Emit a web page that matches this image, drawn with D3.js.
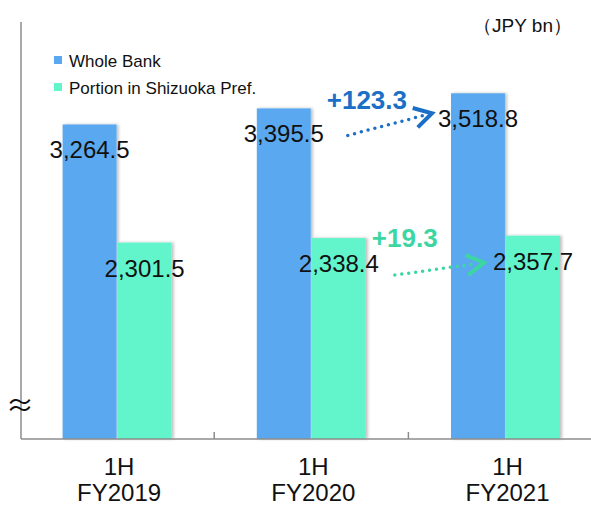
<!DOCTYPE html>
<html>
<head>
<meta charset="utf-8">
<script src="https://cdn.jsdelivr.net/npm/d3@7"></script>
<style>
  body { margin: 0; background: #fff; }
  text { font-family: "Liberation Sans", Arial, sans-serif; }
</style>
</head>
<body>
<div class="chart"></div>
<script>
// chart data
var categories = ["1H FY2019", "1H FY2020", "1H FY2021"];
var seriesNames = ["Whole Bank", "Portion in Shizuoka Pref."];
var wholeBank = [3264.5, 3395.5, 3518.8];
var shizuoka = [2301.5, 2338.4, 2357.7];
var changeLabels = ["+123.3", "+19.3"];
var unitLabel = "（JPY bn）";

var colors = ["#5AA9F0", "#62F5CB"];
var annoColors = ["#1C6FC6", "#3DD6A3"];

var svgWidth = 591, svgHeight = 506;

var svg = d3.select(".chart")
  .append("svg")
  .attr("width", svgWidth)
  .attr("height", svgHeight);

// soft shadow on the bars
var defs = svg.append("defs");
defs.append("filter")
  .attr("id", "shadow")
  .attr("x", "-20%").attr("y", "-5%")
  .attr("width", "140%").attr("height", "110%")
  .append("feDropShadow")
  .attr("dx", 2).attr("dy", 0)
  .attr("stdDeviation", 1.5)
  .attr("flood-color", "#000")
  .attr("flood-opacity", 0.25);

// scales
var x0 = d3.scaleBand()
  .domain(categories)
  .range([20, 602.6]);

var x1 = d3.scaleBand()
  .domain(seriesNames)
  .range([0, 109])
  .paddingInner(0.02);

var y = d3.scaleLinear()
  .domain([700, 4100])
  .range([439, 22]);

var rows = categories.map(function(c, i) {
  return { cat: c, values: [wholeBank[i], shizuoka[i]] };
});

function barX(cat, s) {
  return x0(cat) + x0.bandwidth() / 2 - 54.5 + x1(s);
}

// bars
var groups = svg.selectAll(".cat")
  .data(rows)
  .enter()
  .append("g")
  .attr("class", "cat");

groups.selectAll("rect")
  .data(function(d) {
    return d.values.map(function(v, j) { return { cat: d.cat, s: seriesNames[j], v: v, j: j }; });
  })
  .enter()
  .append("rect")
  .attr("x", d => barX(d.cat, d.s))
  .attr("y", d => y(d.v))
  .attr("width", x1.bandwidth())
  .attr("height", d => y.range()[0] - y(d.v))
  .attr("fill", d => colors[d.j])
  .attr("filter", "url(#shadow)");

// axes
var axisColor = "#8c8c8c";
svg.append("line")
  .attr("x1", 21).attr("x2", 21)
  .attr("y1", y.range()[1]).attr("y2", y.range()[0])
  .attr("stroke", axisColor).attr("stroke-width", 1.5);

svg.append("line")
  .attr("x1", 21).attr("x2", svgWidth)
  .attr("y1", y.range()[0]).attr("y2", y.range()[0])
  .attr("stroke", axisColor).attr("stroke-width", 1.5);

// tick marks between categories
svg.selectAll(".tick")
  .data(categories.slice(1))
  .enter()
  .append("line")
  .attr("x1", d => x0(d)).attr("x2", d => x0(d))
  .attr("y1", y.range()[0] - 7).attr("y2", y.range()[0])
  .attr("stroke", axisColor).attr("stroke-width", 1.5);

// axis break mark
svg.append("text")
  .attr("x", 20)
  .attr("y", 416)
  .attr("text-anchor", "middle")
  .attr("font-size", 28)
  .style("font-family", "'Noto Sans CJK JP', sans-serif")
  .attr("fill", "#111")
  .text("≈");

// category labels
var catLabels = svg.selectAll(".catlabel")
  .data(categories)
  .enter()
  .append("text")
  .attr("text-anchor", "middle")
  .attr("font-size", 24)
  .attr("fill", "#111");

catLabels.each(function(d) {
  var parts = d.split(" ");
  var t = d3.select(this);
  parts.forEach(function(p, k) {
    t.append("tspan")
      .attr("x", x0(d) + x0.bandwidth() / 2 + 2)
      .attr("y", 475 + k * 26)
      .text(p);
  });
});

// value labels
var fmt = d3.format(",.1f");
groups.selectAll(".val")
  .data(function(d) {
    return d.values.map(function(v, j) { return { cat: d.cat, s: seriesNames[j], v: v }; });
  })
  .enter()
  .append("text")
  .attr("x", d => barX(d.cat, d.s) + x1.bandwidth() / 2)
  .attr("y", d => y(d.v) + 34)
  .attr("text-anchor", "middle")
  .attr("font-size", 24)
  .attr("fill", "#111")
  .text(d => fmt(d.v));

// legend
var legend = svg.selectAll(".legend")
  .data(seriesNames)
  .enter()
  .append("g")
  .attr("transform", (d, i) => `translate(54, ${56 + i * 27})`);

legend.append("rect")
  .attr("width", 8).attr("height", 8)
  .attr("fill", (d, i) => colors[i]);

legend.append("text")
  .attr("x", 15)
  .attr("y", 11)
  .attr("font-size", 17)
  .attr("fill", "#111")
  .text(d => d);

// unit
svg.append("text")
  .attr("x", 572)
  .attr("y", 32)
  .attr("text-anchor", "end")
  .attr("font-size", 19)
  .attr("fill", "#111")
  .text(unitLabel);

// change arrows
function drawArrow(x1p, y1p, x2p, y2p, color) {
  var ang = Math.atan2(y2p - y1p, x2p - x1p);
  var len = Math.hypot(x2p - x1p, y2p - y1p);
  svg.append("line")
    .attr("x1", x1p).attr("y1", y1p)
    .attr("x2", x1p + Math.cos(ang) * (len - 8))
    .attr("y2", y1p + Math.sin(ang) * (len - 8))
    .attr("stroke", color)
    .attr("stroke-width", 3.5)
    .attr("stroke-linecap", "round")
    .attr("stroke-dasharray", "0 7");
  var arm = 20, spread = Math.PI / 6;
  var pts = [
    [x2p - arm * Math.cos(ang - spread), y2p - arm * Math.sin(ang - spread)],
    [x2p, y2p],
    [x2p - arm * Math.cos(ang + spread), y2p - arm * Math.sin(ang + spread)]
  ];
  svg.append("path")
    .attr("d", d3.line()(pts))
    .attr("fill", "none")
    .attr("stroke", color)
    .attr("stroke-width", 4)
    .attr("stroke-linejoin", "miter");
}

var c2 = categories[1], c3 = categories[2];
var bw = x1.bandwidth();

// whole bank change
var s0 = seriesNames[0];
drawArrow(barX(c2, s0) + bw / 2 + 64, y(wholeBank[1]) + 27,
          barX(c3, s0) + bw / 2 - 46, y(wholeBank[2]) + 20, annoColors[0]);
svg.append("text")
  .attr("x", barX(c2, s0) + bw / 2 + 43)
  .attr("y", y(wholeBank[1]) + 1)
  .attr("font-size", 26)
  .attr("font-weight", "bold")
  .attr("fill", annoColors[0])
  .text(changeLabels[0]);

// shizuoka change
var s1 = seriesNames[1];
drawArrow(barX(c2, s1) + bw / 2 + 56, y(shizuoka[1]) + 37,
          barX(c3, s1) + bw / 2 - 49, y(shizuoka[2]) + 27, annoColors[1]);
svg.append("text")
  .attr("x", barX(c2, s1) + bw / 2 + 33)
  .attr("y", y(shizuoka[1]) + 9)
  .attr("font-size", 26)
  .attr("font-weight", "bold")
  .attr("fill", annoColors[1])
  .text(changeLabels[1]);
</script>
</body>
</html>
